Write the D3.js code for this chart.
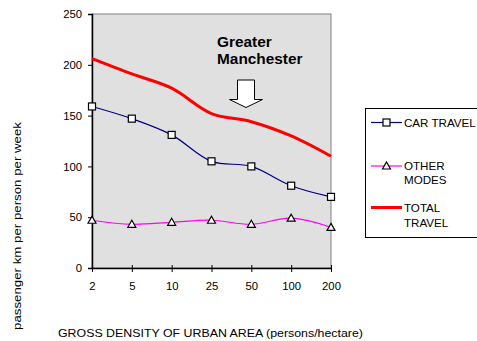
<!DOCTYPE html>
<html>
<head>
<meta charset="utf-8">
<script src="https://cdn.jsdelivr.net/npm/d3@7"></script>
<style>
  body { margin: 0; background: #fff; }
  svg { display: block; font-family: "Liberation Sans", Arial, sans-serif; }
</style>
</head>
<body>
<svg id="chart" width="477" height="341"></svg>
<script>
// chart data
const densities = ["2", "5", "10", "25", "50", "100", "200"];
const carTravel = [159, 147, 131, 105, 100, 81, 70];
const otherModes = [47, 43, 45, 47, 43, 49, 40];
const totalTravel = [206, 191, 177, 152, 144, 130, 110];
const yTicks = [0, 50, 100, 150, 200, 250];

const svg = d3.select("#chart");

// plot area
const plot = { left: 92, right: 331, top: 14, bottom: 268 };

const x = d3.scalePoint().domain(densities).range([plot.left, plot.right]);
const y = d3.scaleLinear().domain([0, 250]).range([plot.bottom, plot.top]);

// grey background + border
svg.append("rect")
    .attr("x", plot.left).attr("y", plot.top)
    .attr("width", plot.right - plot.left).attr("height", plot.bottom - plot.top)
    .attr("fill", "#e0e0e0")
    .attr("stroke", "#808080")
    .attr("stroke-width", 1);

// y axis
const yAxis = svg.append("g")
    .attr("transform", `translate(${plot.left},0)`)
    .call(d3.axisLeft(y).tickValues(yTicks).tickSize(4).tickPadding(6));
yAxis.select(".domain").attr("stroke", "#000").attr("stroke-width", 1.5);
yAxis.selectAll("text").attr("font-size", 11.3).attr("fill", "#000").attr("font-family", "Liberation Sans, Arial, sans-serif");

// x axis (ticks cross the axis)
const xAxis = svg.append("g")
    .attr("transform", `translate(0,${plot.bottom})`)
    .call(d3.axisBottom(x).tickSizeInner(4).tickSizeOuter(0).tickPadding(10));
xAxis.select(".domain").attr("stroke", "#000").attr("stroke-width", 1.5);
xAxis.selectAll(".tick line").attr("y1", -3).attr("y2", 4);
xAxis.selectAll("text").attr("font-size", 11.3).attr("fill", "#000").attr("font-family", "Liberation Sans, Arial, sans-serif");

// lines
const line = d3.line()
    .x((d, i) => x(densities[i]))
    .y(d => y(d))
    .curve(d3.curveCatmullRom.alpha(0.5));

svg.append("path").datum(totalTravel)
    .attr("d", line).attr("fill", "none")
    .attr("stroke", "#ff0000").attr("stroke-width", 3);

svg.append("path").datum(carTravel)
    .attr("d", line).attr("fill", "none")
    .attr("stroke", "#000080").attr("stroke-width", 1.2);

svg.append("path").datum(otherModes)
    .attr("d", line).attr("fill", "none")
    .attr("stroke", "#ff00ff").attr("stroke-width", 1.2);

// markers
function square(g, cx, cy) {
    g.append("rect")
        .attr("x", cx - 3.5).attr("y", cy - 3.5)
        .attr("width", 7).attr("height", 7)
        .attr("fill", "#fff").attr("stroke", "#000").attr("stroke-width", 1.2);
}
function triangle(g, cx, cy) {
    g.append("path")
        .attr("d", `M${cx},${cy - 4} L${cx + 4},${cy + 3} L${cx - 4},${cy + 3} Z`)
        .attr("fill", "#fff").attr("stroke", "#000").attr("stroke-width", 1.2);
}

const markers = svg.append("g");
carTravel.forEach((v, i) => square(markers, x(densities[i]), y(v)));
otherModes.forEach((v, i) => triangle(markers, x(densities[i]), y(v)));

// annotation
svg.append("text")
    .attr("x", 217).attr("y", 46.5)
    .attr("font-size", 15.4).attr("font-weight", "bold")
    .text("Greater");
svg.append("text")
    .attr("x", 217).attr("y", 64)
    .attr("font-size", 15.4).attr("font-weight", "bold")
    .text("Manchester");

// hollow arrow
svg.append("path")
    .attr("d", "M237.5,80 L254.5,80 L254.5,99.5 L262.5,99.5 L246,107.5 L229.5,99.5 L237.5,99.5 Z")
    .attr("fill", "#fff").attr("stroke", "#000").attr("stroke-width", 1);

// axis titles
svg.append("text")
    .attr("transform", "translate(21,226) rotate(-90)")
    .attr("text-anchor", "middle")
    .attr("font-size", 11.5)
    .attr("textLength", 208)
    .attr("lengthAdjust", "spacingAndGlyphs")
    .text("passenger km per person per week");

svg.append("text")
    .attr("x", 58).attr("y", 336.5)
    .attr("font-size", 11.8)
    .attr("textLength", 305)
    .attr("lengthAdjust", "spacingAndGlyphs")
    .text("GROSS DENSITY OF URBAN AREA (persons/hectare)");

// legend
const legend = svg.append("g");
legend.append("rect")
    .attr("x", 365.5).attr("y", 108.5)
    .attr("width", 130).attr("height", 129)
    .attr("fill", "#fff").attr("stroke", "#000").attr("stroke-width", 1);

const lx1 = 371, lx2 = 402, lmid = 386.5;
legend.append("line").attr("x1", lx1).attr("x2", lx2).attr("y1", 122.5).attr("y2", 122.5)
    .attr("stroke", "#000080").attr("stroke-width", 1.2);
square(legend, lmid, 122.5);
legend.append("line").attr("x1", lx1).attr("x2", lx2).attr("y1", 166).attr("y2", 166)
    .attr("stroke", "#ff00ff").attr("stroke-width", 1.2);
triangle(legend, lmid, 166);
legend.append("line").attr("x1", lx1).attr("x2", lx2).attr("y1", 207.5).attr("y2", 207.5)
    .attr("stroke", "#ff0000").attr("stroke-width", 3);

const legendText = [
    ["CAR TRAVEL", 126.5],
    ["OTHER", 170],
    ["MODES", 184],
    ["TOTAL", 212],
    ["TRAVEL", 226.5]
];
legend.selectAll("text.lt")
    .data(legendText)
    .enter()
    .append("text")
    .attr("class", "lt")
    .attr("x", 404)
    .attr("y", d => d[1])
    .attr("font-size", 11.6)
    .text(d => d[0]);
</script>
</body>
</html>
